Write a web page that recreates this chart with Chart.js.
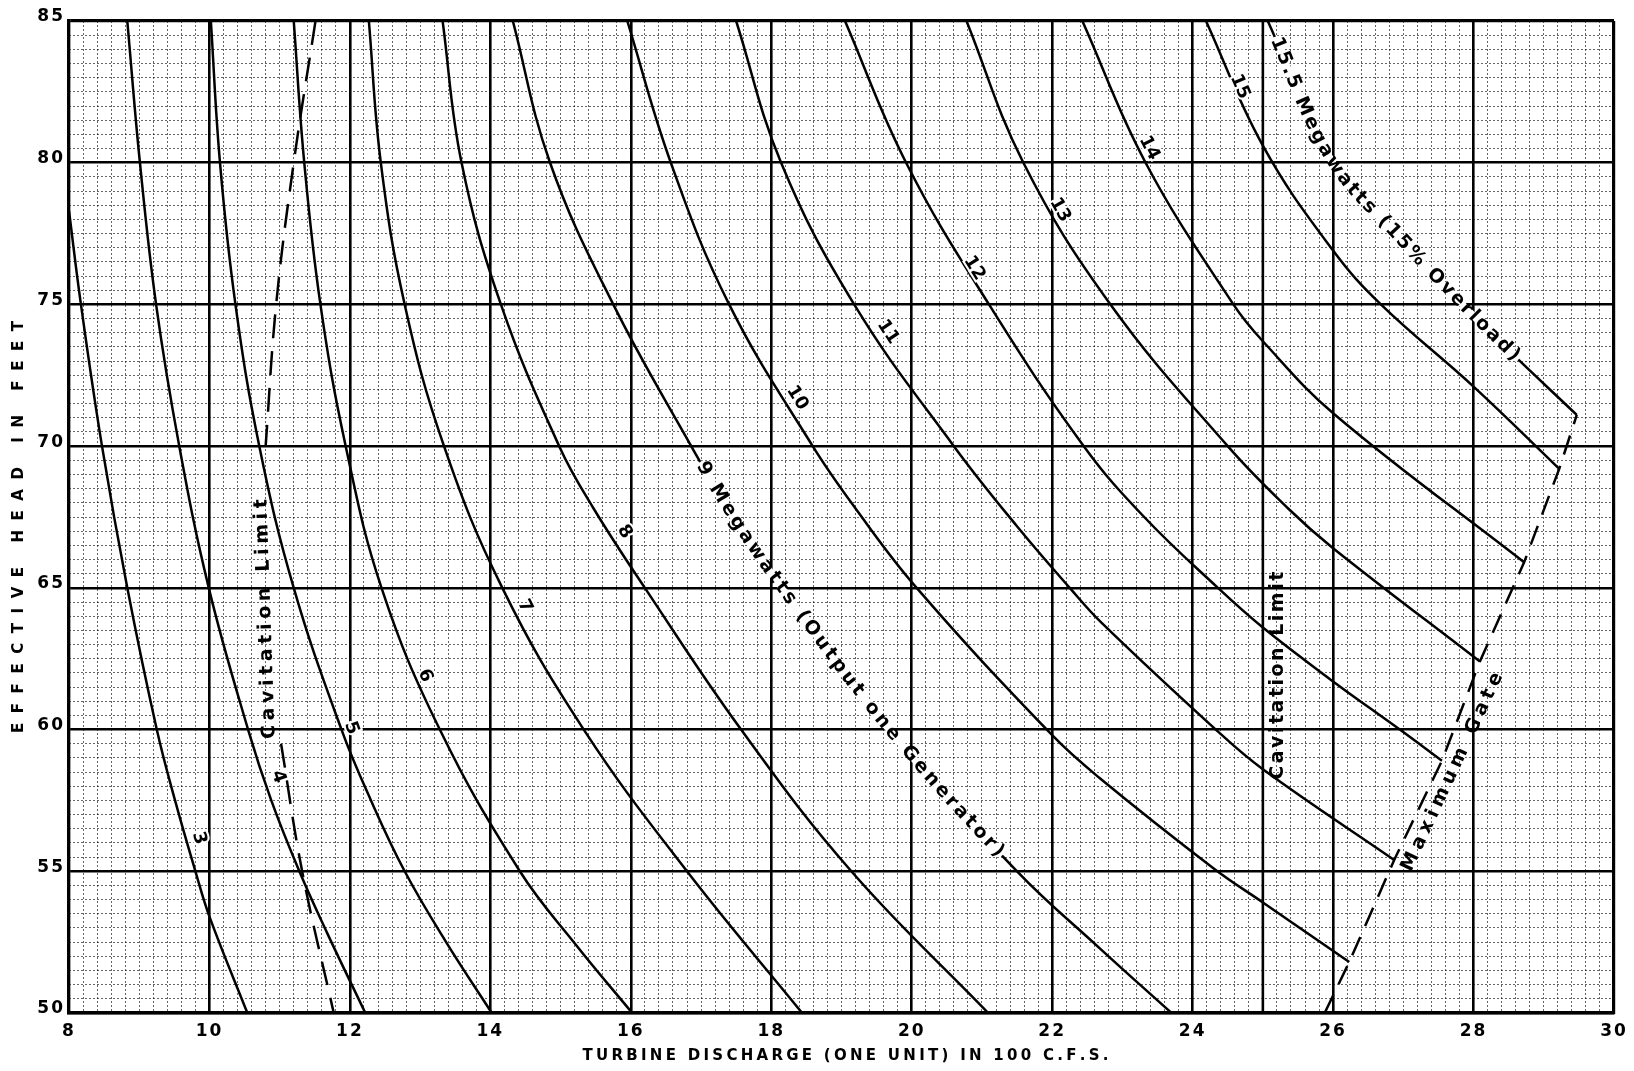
<!DOCTYPE html>
<html lang="en">
<head>
<meta charset="utf-8">
<title>Effective head vs turbine discharge</title>
<script src="https://cdn.jsdelivr.net/npm/chart.js@4.4.1/dist/chart.umd.min.js"></script>
<style>
	html, body { margin: 0; padding: 0; background: #fff; }
	canvas { display: block; }
</style>
</head>
<body>
<canvas id="graphique" width="1634" height="1071"></canvas>
<script>
// megawatt curves, each point is [turbine discharge in 100 c.f.s., effective head in feet]
const mw3 = [[8.0, 78.3], [8.17, 75], [8.47, 70], [8.83, 65], [9.25, 60], [9.51, 57.5], [9.8, 55], [10.0, 53.4], [10.54, 50]];
const mw4 = [[8.83, 85], [9.01, 80], [9.24, 75], [9.57, 70], [9.99, 65], [10.55, 60], [10.88, 57.5], [11.28, 55], [11.68, 52.8], [12.22, 50]];
const mw5 = [[10.02, 85], [10.15, 80], [10.37, 75], [10.71, 70], [11.2, 65], [11.88, 60], [12.3, 57.5], [12.78, 55], [13.37, 52.5], [14.02, 50]];
const mw6 = [[11.2, 85], [11.35, 80], [11.58, 75], [11.94, 70], [12.45, 65], [13.28, 60], [14.42, 55], [15.22, 52.4], [16.02, 50]];
const mw7 = [[12.27, 85], [12.44, 80], [12.78, 75], [13.34, 70], [14.17, 65], [15.33, 60], [16.8, 55], [18.44, 50]];
const mw8 = [[13.32, 85], [13.59, 80], [14.15, 75], [14.98, 70], [15.47, 67.8], [16.2, 65], [17.57, 60], [19.14, 55], [21.09, 50]];
const mw9 = [[14.32, 85], [14.85, 80], [15.75, 75], [16.86, 70], [17.38, 67.8], [18.15, 65], [19.68, 60], [21.5, 55], [22.67, 52.3], [23.7, 50]];
const mw10 = [[15.95, 85], [16.57, 80], [17.4, 75], [18.59, 70], [19.2, 67.8], [20.07, 65], [22.0, 59.8], [22.67, 58.3], [24.3, 55.1], [25.0, 53.9], [26.23, 51.8]];
const mw11 = [[17.5, 85], [18.14, 80], [19.18, 75], [20.6, 70], [21.49, 67.2], [22.25, 65], [22.69, 63.8], [24.33, 60], [25.0, 58.6], [26.87, 55.4]];
const mw12 = [[19.05, 85], [19.92, 80], [21.1, 75], [22.45, 70], [23.31, 67.5], [24.36, 65], [25.0, 63.6], [26.0, 61.7], [26.95, 60], [27.55, 58.9]];
const mw13 = [[20.78, 85], [21.59, 80], [22.83, 75], [24.5, 70], [25.36, 67.8], [26.0, 66.4], [28.09, 62.4]];
const mw14 = [[22.43, 85], [23.33, 80], [24.58, 75], [25.0, 73.7], [26.03, 71.1], [28.72, 65.9]];
const mw15 = [[24.19, 85], [25.0, 80.6], [26.0, 76.9], [26.68, 75], [28.0, 72.1], [29.22, 69.2]];
const mw155 = [[25.07, 85], [25.97, 80.1], [26.92, 77.4], [27.8, 75.1], [28.45, 73.5], [29.47, 71.1]];

// limits
const cavitationUpper = [[11.51, 85], [11.2, 80], [10.95, 75], [10.8, 70]];
const cavitationLower = [[11.02, 59.5], [11.32, 55], [11.77, 50]];
const cavitationRight = [[25, 50], [25, 85]];
const maxGate = [[25.88, 50], [26.23, 51.8], [26.87, 55.4], [27.55, 58.9], [28.09, 62.4], [28.72, 65.9], [29.22, 69.2], [29.47, 71.1]];

const xTickValues = [8, 10, 12, 14, 16, 18, 20, 22, 24, 26, 28, 30];
const yTickValues = [50, 55, 60, 65, 70, 75, 80, 85];

const powerCurves = [mw3, mw4, mw5, mw6, mw7, mw8, mw9, mw10, mw11, mw12, mw13, mw14, mw15, mw155];

const FONT = "'DejaVu Sans', sans-serif";

// text written along a curve: dataset index, head where it starts and ends
const curveTexts = [
	{ dataset: 6, text: "9 Megawatts (Output one Generator)", from: 69.4, to: 55.6 },
	{ dataset: 13, text: "15.5 Megawatts (15% Overload)", from: 84.4, to: 73.1 },
];
// small numbers beside the curves: text, discharge, head, dataset for the slope
const numberLabels = [
	["3", 9.85, 56.17, 0], ["4", 10.98, 58.33, 1], ["5", 12.02, 60.05, 2], ["6", 13.07, 61.9, 3],
	["7", 14.49, 64.35, 4], ["8", 15.91, 66.98, 5], ["10", 18.37, 71.7, 7], ["11", 19.66, 74.03, 8],
	["12", 20.89, 76.28, 9], ["13", 22.11, 78.33, 10], ["14", 23.38, 80.52, 11], ["15", 24.67, 82.68, 12],
];
const straightTexts = [
	{ text: "Cavitation Limit", q: 10.8, h: 63.9, angle: -92, length: 240 },
	{ text: "Cavitation Limit", q: 25.22, h: 61.9, angle: -90, length: 208 },
	{ text: "Maximum Gate", q: 27.7, h: 58.5, angle: -65, length: 217 },
];

function toPoints(list) {
	return list.map(([q, h]) => ({ x: q, y: h }));
}

function lineDataset(list, extra) {
	return Object.assign({
		data: toPoints(list),
		borderColor: "#000",
		borderWidth: 2.5,
		pointRadius: 0,
		pointHoverRadius: 0,
		fill: false,
		xAxisID: "x",
		yAxisID: "y",
	}, extra);
}

function evenTicks(min, max, step) {
	const n = Math.round((max - min) / step);
	return Array.from({ length: n + 1 }, (_, i) => ({ value: +(min + i * step).toFixed(3) }));
}

const datasets = powerCurves.map((c) => lineDataset(c, { tension: 0.4 }));
datasets.push(lineDataset(cavitationUpper, { tension: 0.4, borderDash: [24, 13] }));
datasets.push(lineDataset(cavitationLower, { tension: 0.4, borderDash: [24, 13] }));
datasets.push(lineDataset(cavitationRight, { borderWidth: 2.6 }));
datasets.push(lineDataset(maxGate, { borderDash: [20, 12], tension: 0 }));

function curveSamples(chart, index) {
	const meta = chart.getDatasetMeta(index);
	if (meta.dataset && meta.dataset.updateControlPoints) {
		meta.dataset.updateControlPoints(chart.chartArea, meta.indexAxis);
	}
	const pts = meta.data;
	const out = [{ x: pts[0].x, y: pts[0].y, s: 0 }];
	for (let i = 0; i < pts.length - 1; i++) {
		const a = pts[i], b = pts[i + 1];
		const ax = a.cp2x ?? a.x, ay = a.cp2y ?? a.y, bx = b.cp1x ?? b.x, by = b.cp1y ?? b.y;
		for (let k = 1; k <= 30; k++) {
			const t = k / 30, u = 1 - t;
			const x = u * u * u * a.x + 3 * u * u * t * ax + 3 * u * t * t * bx + t * t * t * b.x;
			const y = u * u * u * a.y + 3 * u * u * t * ay + 3 * u * t * t * by + t * t * t * b.y;
			const prev = out[out.length - 1];
			out.push({ x, y, s: prev.s + Math.hypot(x - prev.x, y - prev.y) });
		}
	}
	return out;
}

function arcAtPixelY(samples, py) {
	for (let i = 1; i < samples.length; i++) {
		const p = samples[i - 1], q = samples[i];
		if ((p.y - py) * (q.y - py) <= 0 && p.y !== q.y) {
			return p.s + (q.s - p.s) * (py - p.y) / (q.y - p.y);
		}
	}
	return samples[samples.length - 1].s;
}

function pointAtArc(samples, s) {
	for (let i = 1; i < samples.length; i++) {
		const p = samples[i - 1], q = samples[i];
		if (q.s >= s) {
			const t = q.s === p.s ? 0 : (s - p.s) / (q.s - p.s);
			return { x: p.x + (q.x - p.x) * t, y: p.y + (q.y - p.y) * t, a: Math.atan2(q.y - p.y, q.x - p.x) };
		}
	}
	const p = samples[samples.length - 2], q = samples[samples.length - 1];
	return { x: q.x, y: q.y, a: Math.atan2(q.y - p.y, q.x - p.x) };
}

function spacedText(ctx, text, cx, cy, angle, length) {
	const chars = [...text];
	const w = chars.map((c) => ctx.measureText(c).width);
	const total = w.reduce((a, b) => a + b, 0);
	const gap = (length - total) / (chars.length - 1);
	ctx.save();
	ctx.translate(cx, cy);
	ctx.rotate(angle);
	let x = -length / 2;
	chars.forEach((c, i) => {
		ctx.fillText(c, x + w[i] / 2, 0);
		x += w[i] + gap;
	});
	ctx.restore();
}

const tickSpacing = {
	id: "tickSpacing",
	beforeDraw(chart) {
		chart.ctx.letterSpacing = "2px";
	},
};

const curveLabels = {
	id: "curveLabels",
	afterDatasetsDraw(chart) {
		const ctx = chart.ctx;
		const xs = chart.scales.x, ys = chart.scales.y;
		ctx.save();
		ctx.letterSpacing = "0px";
		ctx.fillStyle = "#000";
		ctx.textAlign = "center";
		ctx.textBaseline = "middle";

		// long texts replacing a stretch of the curve
		ctx.font = "bold 19px " + FONT;
		for (const lab of curveTexts) {
			const samples = curveSamples(chart, lab.dataset);
			const s0 = arcAtPixelY(samples, ys.getPixelForValue(lab.from));
			const s1 = arcAtPixelY(samples, ys.getPixelForValue(lab.to));
			ctx.save();
			ctx.strokeStyle = "#fff";
			ctx.lineWidth = 7;
			ctx.beginPath();
			let started = false;
			for (const p of samples) {
				if (p.s < s0 - 3 || p.s > s1 + 3) continue;
				if (!started) { ctx.moveTo(p.x, p.y); started = true; } else ctx.lineTo(p.x, p.y);
			}
			ctx.stroke();
			ctx.restore();
			const chars = [...lab.text];
			const w = chars.map((c) => ctx.measureText(c).width);
			const total = w.reduce((a, b) => a + b, 0);
			const gap = (s1 - s0 - total) / (chars.length - 1);
			let s = s0;
			chars.forEach((c, i) => {
				const p = pointAtArc(samples, s + w[i] / 2);
				ctx.save();
				ctx.translate(p.x, p.y);
				ctx.rotate(p.a);
				ctx.fillText(c, 0, 0);
				ctx.restore();
				s += w[i] + gap;
			});
		}

		// curve numbers
		ctx.font = "bold 18px " + FONT;
		for (const [text, q, h, index] of numberLabels) {
			const samples = curveSamples(chart, index);
			const p = pointAtArc(samples, arcAtPixelY(samples, ys.getPixelForValue(h)));
			ctx.save();
			ctx.translate(xs.getPixelForValue(q), ys.getPixelForValue(h));
			ctx.rotate(p.a);
			ctx.strokeStyle = "#fff";
			ctx.lineWidth = 4;
			ctx.strokeText(text, 0, 0);
			ctx.fillText(text, 0, 0);
			ctx.restore();
		}

		// limit names
		ctx.font = "bold 19px " + FONT;
		for (const lab of straightTexts) {
			spacedText(ctx, lab.text, xs.getPixelForValue(lab.q), ys.getPixelForValue(lab.h), lab.angle * Math.PI / 180, lab.length);
		}
		ctx.restore();
	},
};

const axisTitles = {
	id: "axisTitles",
	afterDraw(chart) {
		const ctx = chart.ctx;
		const area = chart.chartArea;
		ctx.save();
		ctx.letterSpacing = "0px";
		ctx.fillStyle = "#000";
		ctx.textAlign = "center";
		ctx.textBaseline = "middle";
		ctx.font = "bold 15px " + FONT;
		spacedText(ctx, "TURBINE DISCHARGE (ONE UNIT) IN 100 C.F.S.", (area.left + area.right) / 2 + 4, area.bottom + 43, 0, 526);
		spacedText(ctx, "EFFECTIVE HEAD IN FEET", 19, (area.top + area.bottom) / 2 + 10, -Math.PI / 2, 412);
		ctx.restore();
	},
};

const tickFont = { family: FONT, size: 17, weight: "bold" };

const config = {
	type: "line",
	data: { datasets: datasets },
	options: {
		responsive: false,
		animation: false,
		events: [],
		layout: { padding: { left: 0, right: 20, top: 21, bottom: 0 } },
		plugins: { legend: { display: false }, tooltip: { enabled: false } },
		scales: {
			xMinor: {
				type: "linear", position: "bottom", min: 8, max: 30,
				afterBuildTicks: (s) => { s.ticks = evenTicks(8, 30, 0.2); },
				ticks: { display: false },
				grid: { color: "rgba(0,0,0,0.6)", lineWidth: 1, drawTicks: false, z: -1 },
				border: { display: false, dash: [2, 2] },
				afterFit: (s) => { s.height = 0; },
			},
			yMinor: {
				type: "linear", position: "left", min: 50, max: 85,
				afterBuildTicks: (s) => { s.ticks = evenTicks(50, 85, 0.5); },
				ticks: { display: false },
				grid: { color: "rgba(0,0,0,0.6)", lineWidth: 1, drawTicks: false, z: -1 },
				border: { display: false, dash: [2, 2] },
				afterFit: (s) => { s.width = 0; },
			},
			x: {
				type: "linear", position: "bottom", min: 8, max: 30,
				afterBuildTicks: (s) => { s.ticks = xTickValues.map((v) => ({ value: v })); },
				ticks: { color: "#000", font: tickFont, padding: 8, maxRotation: 0, autoSkip: false },
				grid: {
					color: "#000",
					lineWidth: (c) => (c.tick && (c.tick.value === 8 || c.tick.value === 30) ? 3.2 : 2.6),
					drawTicks: false,
				},
				border: { display: true, color: "#000", width: 3.2 },
				afterFit: (s) => { s.height = 58; },
			},
			y: {
				type: "linear", position: "left", min: 50, max: 85,
				afterBuildTicks: (s) => { s.ticks = yTickValues.map((v) => ({ value: v })); },
				ticks: { color: "#000", font: tickFont, padding: 4, labelOffset: -4, autoSkip: false },
				grid: {
					color: "#000",
					lineWidth: (c) => (c.tick && c.tick.value === 85 ? 3.2 : 2.6),
					drawTicks: false,
				},
				border: { display: true, color: "#000", width: 3.2 },
				afterFit: (s) => { s.width = 69; },
			},
		},
	},
	plugins: [tickSpacing, curveLabels, axisTitles],
};

const graphique = new Chart(document.getElementById("graphique"), config);
</script>
</body>
</html>
